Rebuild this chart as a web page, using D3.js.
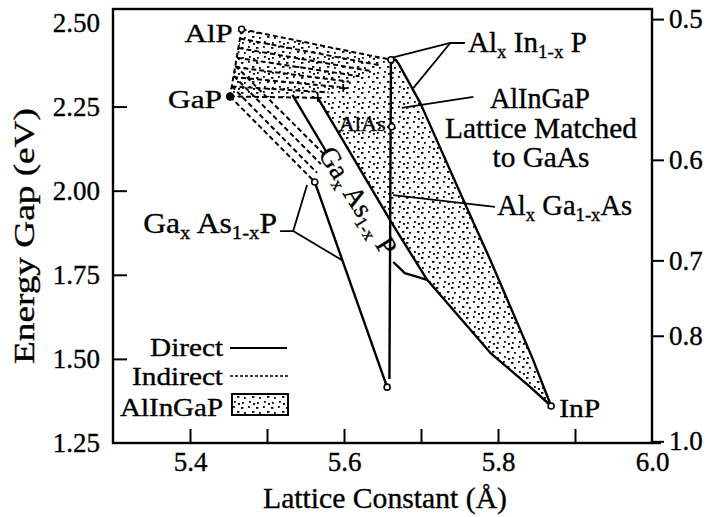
<!DOCTYPE html>
<html>
<head>
<meta charset="utf-8">
<script src="https://cdn.jsdelivr.net/npm/d3@7"></script>
<style>
  html, body { margin: 0; padding: 0; background: #fff; }
  svg { display: block; font-family: "Liberation Serif", "DejaVu Serif", serif; }
  text { white-space: pre; fill: #000; stroke: #000; stroke-width: 0.35px; }
</style>
</head>
<body>
<svg id="chart" width="710" height="517"></svg>
<script>
// ---------- axis ticks ----------
const latticeTicks = [5.4, 5.5, 5.6, 5.7, 5.8, 5.9];
const latticeLabels = [5.4, 5.6, 5.8, 6.0];
const gapLabels = [1.25, 1.50, 1.75, 2.00, 2.25, 2.50];
const gapTicks = [1.50, 1.75, 2.00, 2.25];
const wavelengthLabels = [0.5, 0.6, 0.7, 0.8, 1.0];
const HC = 1.255; // eV·µm used to convert gap to wavelength

// ---------- binary compounds [lattice constant Å, gap eV] ----------
const alP = [5.467, 2.48];
const gaP = [5.452, 2.28];
const alAs = [5.662, 2.19];
const gaAs = [5.656, 1.416];
const inP = [5.869, 1.36];

// ---------- ternary / quaternary curves ----------
const alInPCross = [5.661, 2.389];
const gaInPCross = [5.566, 2.276];
const gaAsPCross = [5.562, 2.026];
const quatCross = [5.599, 2.305];

const alInPIndirect = [alP, alInPCross];
const alInPDirect = [alInPCross, [5.667, 2.389], [5.671, 2.377], [5.699, 2.261],
                     [5.755, 1.972], [5.790, 1.794], [5.844, 1.506], inP];
const gaInPIndirect = [gaP, gaInPCross];
const gaInPDirect = [gaInPCross, [5.662, 1.904], [5.708, 1.735], [5.790, 1.518],
                     [5.842, 1.416], inP];
const gaAsPIndirect = [gaP, gaAsPCross];
const gaAsPDirect = [gaAsPCross, gaAs];
const latticeMatched = [alInPCross, [5.659, 1.44]];
const gaAsPEdgeUpper = [[5.533, 2.285], [5.578, 2.112]];
const gaAsPEdgeLower = [[5.664, 1.788], [5.679, 1.755], [5.708, 1.735]];

// indirect-gap composition lines of the quaternary
const upperFan = [
  [[5.465, 2.452], [5.648, 2.372]],
  [[5.463, 2.424], [5.634, 2.356]],
  [[5.461, 2.395], [5.620, 2.340]],
  [[5.459, 2.367], [5.607, 2.324]],
  [[5.456, 2.338], [5.593, 2.308]],
  [[5.454, 2.310], [5.580, 2.292]]
];
const lowerFan = [
  [[5.454, 2.311], [5.565, 2.053]],
  [[5.457, 2.341], [5.570, 2.079]],
  [[5.459, 2.371], [5.575, 2.106]]
];

// ---------- pointer lines ----------
const alInPPointerA = [[5.757, 2.439], [5.738, 2.439], [5.660, 2.394]];
const alInPPointerB = [[5.738, 2.439], [5.690, 2.305]];
const alInGaPPointer = [[5.768, 2.279], [5.675, 2.246]];
const alGaAsPointer = [[5.796, 1.952], [5.664, 1.987]];
const gaAsPPointerA = [[5.517, 1.880], [5.534, 1.880], [5.552, 2.017]];
const gaAsPPointerB = [[5.534, 1.880], [5.597, 1.794]];

// ---------- layout ----------
const svg = d3.select("#chart");
const plot = { left: 113, right: 652, top: 9, bottom: 443 };

const x = d3.scaleLinear().domain([5.3, 6.0]).range([plot.left, plot.right]);
const y = d3.scaleLinear().domain([1.25, 2.54]).range([plot.bottom, plot.top]);
// wavelength (µm) axis: E = HC / λ, so position is linear in 1/λ
const yLambda = d3.scalePow().exponent(-1)
  .domain([HC / 1.25, HC / 2.54]).range([plot.bottom, plot.top]);

const line = d3.line().x(d => x(d[0])).y(d => y(d[1]));

// dotted texture for the AlInGaP region
const defs = svg.append("defs");
const pat = defs.append("pattern").attr("id", "dots")
  .attr("patternUnits", "userSpaceOnUse").attr("width", 15).attr("height", 15);
[[1, 2], [8, 1], [4, 7], [12, 6], [2, 12], [9, 11], [13, 13]].forEach(([px, py], i) => {
  pat.append("rect").attr("x", px).attr("y", py)
    .attr("width", i % 3 === 0 ? 2.4 : 1.8).attr("height", 1.8).attr("fill", "#000");
});

// text helpers: parts = [[string, isSubscript], ...]
function rich(parts, size, subSize) {
  return t => {
    let shift = 0;
    parts.forEach(([str, sub]) => {
      const target = sub ? subSize * 0.3 : 0;
      t.append("tspan").text(str)
        .attr("font-size", sub ? subSize : size)
        .attr("dy", target - shift);
      shift = target;
    });
  };
}
// place a text at (px, py), squeezed horizontally to a set width
function label(px, py, anchor, size, width, content, rot) {
  const t = svg.append("text").attr("text-anchor", anchor).attr("font-size", size);
  if (typeof content === "string") t.text(content); else content(t);
  const w = t.node().getComputedTextLength();
  const sx = width && w ? width / w : 1;
  t.attr("transform", `translate(${px},${py})${rot ? ` rotate(${rot})` : ""} scale(${sx},1)`);
  return t;
}

// ---------- AlInGaP region ----------
const regionPts = [alP, ...alInPDirect, ...gaInPDirect.slice().reverse(), gaP];
svg.append("path").attr("d", line(regionPts) + "Z")
  .attr("fill", "url(#dots)").attr("stroke", "none");

// ---------- indirect (dashed) lines ----------
const dashed = svg.append("g").attr("fill", "none").attr("stroke", "#000")
  .attr("stroke-width", 2).attr("stroke-dasharray", "5,3");
[alInPIndirect, gaInPIndirect, gaAsPIndirect, [alP, gaP], ...upperFan, ...lowerFan]
  .forEach(seg => dashed.append("path").attr("d", line(seg)));

// ---------- direct (solid) lines ----------
const solid = svg.append("g").attr("fill", "none").attr("stroke", "#000")
  .attr("stroke-width", 2.4).attr("stroke-linejoin", "round");
[alInPDirect, gaInPDirect, gaAsPDirect, latticeMatched, gaAsPEdgeUpper, gaAsPEdgeLower]
  .forEach(seg => solid.append("path").attr("d", line(seg)));

// pointer lines
const pointers = svg.append("g").attr("fill", "none").attr("stroke", "#000")
  .attr("stroke-width", 1.8);
[alInPPointerA, alInPPointerB, alInGaPPointer, alGaAsPointer, gaAsPPointerA, gaAsPPointerB]
  .forEach(seg => pointers.append("path").attr("d", line(seg)));

// crossing marks
[gaInPCross, quatCross].forEach(p => {
  const cx = x(p[0]), cy = y(p[1]);
  svg.append("path").attr("d", `M${cx - 4},${cy}H${cx + 4}M${cx},${cy - 4}V${cy + 4}`)
    .attr("stroke", "#000").attr("stroke-width", 1.8);
});

// ---------- compound markers ----------
const openMarks = [alP, alAs, gaAs, inP, gaAsPCross, alInPCross];
svg.append("g").selectAll("circle").data(openMarks).join("circle")
  .attr("cx", d => x(d[0])).attr("cy", d => y(d[1])).attr("r", 3)
  .attr("fill", "#fff").attr("stroke", "#000").attr("stroke-width", 1.6);
svg.append("circle").attr("cx", x(gaP[0])).attr("cy", y(gaP[1])).attr("r", 4.2).attr("fill", "#000");

// compound names
label(x(alP[0]) - 9, y(alP[1]) + 13, "end", 26, 48, "AlP");
label(x(gaP[0]) - 8, y(gaP[1]) + 12, "end", 26, 54, "GaP");
label(x(inP[0]) + 8, y(inP[1]) + 11, "start", 26, 41, "InP");
label(x(alAs[0]) - 6, y(alAs[1]) + 4, "end", 22, 47, "AlAs");

// alloy names
label(x(5.761), y(2.412), "start", 29, 119,
  rich([["Al", 0], ["x", 1], [" In", 0], ["1-x", 1], [" P", 0]], 29, 19));
label(x(5.8545), y(2.246), "middle", 29, 100, "AlInGaP");
label(x(5.8558), y(2.157), "middle", 29, 192, "Lattice Matched");
label(x(5.8558), y(2.071), "middle", 29, 97, "to GaAs");
label(x(5.799), y(1.928), "start", 29, 135,
  rich([["Al", 0], ["x", 1], [" Ga", 0], ["1-x", 1], ["As", 0]], 29, 19));
label(x(5.517) - 3, y(1.874), "end", 29, 134,
  rich([["Ga", 0], ["x", 1], [" As", 0], ["1-x", 1], ["P", 0]], 29, 19));
label(x(5.608), y(1.955), "middle", 28, 122,
  rich([["Ga", 0], ["x", 1], [" As", 0], ["1-x", 1], [" P", 0]], 28, 18), 58);

// ---------- frame and axes ----------
svg.append("rect").attr("x", plot.left).attr("y", plot.top)
  .attr("width", plot.right - plot.left).attr("height", plot.bottom - plot.top)
  .attr("fill", "none").attr("stroke", "#000").attr("stroke-width", 2.4);
svg.append("line").attr("x1", plot.right).attr("x2", plot.right + 9)
  .attr("y1", plot.bottom).attr("y2", plot.bottom).attr("stroke", "#000").attr("stroke-width", 2.4);

// tick text: digits are half an em wide, the point a quarter, at 27px
function styleAxis(g) {
  g.select(".domain").remove();
  g.attr("font-family", null).attr("font-size", null);
  g.selectAll(".tick line").attr("stroke", "#000").attr("stroke-width", 2);
  g.selectAll(".tick text").attr("font-size", 27).attr("fill", "#000").each(function () {
    const t = d3.select(this);
    const s = t.text();
    const target = 27 * (s.replace(".", "").length * 0.5 + 0.25);
    const w = this.getComputedTextLength();
    const x0 = +t.attr("x") || 0;
    t.attr("transform", `translate(${x0},0) scale(${target / w},1) translate(${-x0},0)`);
  });
}

// lattice constant ticks (pointing into the plot) and labels
svg.append("g").attr("transform", `translate(0,${plot.bottom})`)
  .call(d3.axisTop(x).tickValues(latticeTicks).tickSize(14).tickFormat(""))
  .call(styleAxis);
svg.append("g").attr("transform", `translate(0,${plot.bottom})`)
  .call(d3.axisBottom(x).tickValues(latticeLabels).tickSize(0).tickPadding(9)
    .tickFormat(d3.format(".1f")))
  .call(styleAxis);

// energy gap ticks and labels
svg.append("g").attr("transform", `translate(${plot.left},0)`)
  .call(d3.axisRight(y).tickValues(gapTicks).tickSize(14).tickFormat(""))
  .call(styleAxis);
svg.append("g").attr("transform", `translate(${plot.left},0)`)
  .call(d3.axisLeft(y).tickValues(gapLabels).tickSize(0).tickPadding(13)
    .tickFormat(d3.format(".2f")))
  .call(styleAxis);

// wavelength axis
svg.append("g").attr("transform", `translate(${plot.right},0)`)
  .call(d3.axisRight(yLambda).tickValues(wavelengthLabels).tickSize(12).tickPadding(5)
    .tickFormat(d3.format(".1f")))
  .call(styleAxis);

// axis titles
label(385, 508, "middle", 30, 244, "Lattice Constant (Å)");
label(34, 236, "middle", 29, 256, "Energy Gap (eV)", -90);

// ---------- legend ----------
label(223, 356, "end", 26, 73, "Direct");
svg.append("line").attr("x1", 230).attr("x2", 287).attr("y1", 348).attr("y2", 348)
  .attr("stroke", "#000").attr("stroke-width", 2);
label(223, 385, "end", 26, 91, "Indirect");
svg.append("line").attr("x1", 230).attr("x2", 290).attr("y1", 376).attr("y2", 376)
  .attr("stroke", "#000").attr("stroke-width", 1.6).attr("stroke-dasharray", "3,2");
label(223, 416, "end", 26, 103, "AlInGaP");
svg.append("rect").attr("x", 232).attr("y", 394).attr("width", 56).attr("height", 21)
  .attr("fill", "url(#dots)").attr("stroke", "#000").attr("stroke-width", 2);
</script>
</body>
</html>
